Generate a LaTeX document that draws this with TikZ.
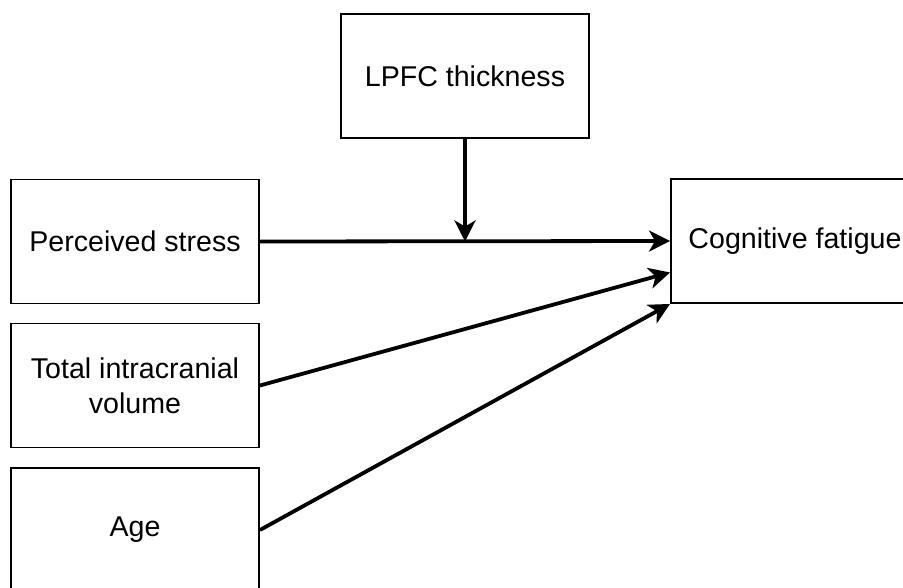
\documentclass[tikz,border=0pt]{standalone}
\usepackage{fontspec}
\setmainfont{Liberation Sans}
\usetikzlibrary{arrows.meta,calc}
\begin{document}
\begin{tikzpicture}[x=1pt,y=-1pt,
  box/.style={draw=black, line width=1.9pt, fill=white, minimum width=248pt, minimum height=124pt,
    inner sep=0pt, align=center, font=\fontsize{28.6pt}{35pt}\selectfont},
  conn/.style={line width=3.8pt, -{Stealth[length=21pt,width=21pt,inset=6pt]}}]
\clip (0,0) rectangle (903,587);
\fill[white] (0,0) rectangle (903,587);
\node[box] (lpfc) at (465,76) {LPFC thickness};
\node[box] (ps) at (135,241.5) {Perceived stress};
\node[box] (tiv) at (135,385.5) {Total intracranial\\volume};
\node[box] (age) at (135,530) {Age};
\node[box] (cf) at (795,241) {Cognitive fatigue};
\coordinate (cfl) at ($(cf.south west)!0.25!(cf.north west)$);
\coordinate (mid) at (lpfc.south |- ps.east);
\draw[conn] (ps.east) -- (cf.west);
\draw[conn] (tiv.east) -- (cfl);
\draw[conn] (age.east) -- (cf.south west);
\draw[conn] (lpfc.south) -- (mid);
\end{tikzpicture}
\end{document}
